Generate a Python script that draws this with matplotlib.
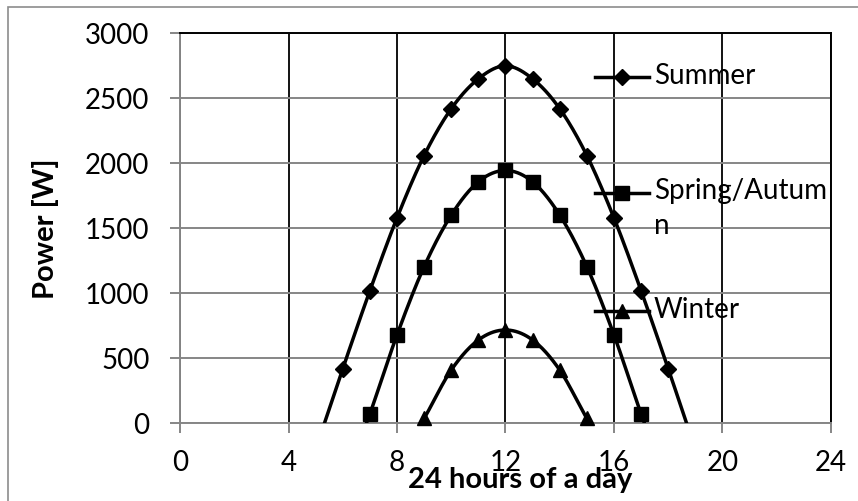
import numpy as np
import matplotlib.pyplot as plt
from matplotlib.patches import Rectangle

plt.rcParams['font.family'] = ['Lato', 'DejaVu Sans']

# hourly solar power, W (the outer points fall below zero and are cut by the axis)
hours_summer = [5, 6, 7, 8, 9, 10, 11, 12, 13, 14, 15, 16, 17, 18, 19]
summer = [-200, 420, 1020, 1580, 2060, 2420, 2650, 2750, 2650, 2420, 2060, 1580, 1020, 420, -200]

hours_spring = [6, 7, 8, 9, 10, 11, 12, 13, 14, 15, 16, 17, 18]
spring = [-500, 72, 680, 1205, 1602, 1858, 1945, 1858, 1602, 1205, 680, 72, -500]

hours_winter = [8, 9, 10, 11, 12, 13, 14, 15, 16]
winter = [-300, 38, 410, 641, 718, 641, 410, 38, -300]

labels = ['Summer', 'Spring/Autum\nn', 'Winter']
markers = ['D', 's', '^']
msizes = [8, 10, 10]


def smooth(x, y, n=30):
    # cubic Hermite through the points, tangents from central differences
    x = np.asarray(x, float)
    y = np.asarray(y, float)
    m = np.gradient(y, x)
    xs, ys = [], []
    for i in range(len(x) - 1):
        t = np.linspace(0, 1, n)
        h = x[i + 1] - x[i]
        h00 = 2 * t**3 - 3 * t**2 + 1
        h10 = t**3 - 2 * t**2 + t
        h01 = -2 * t**3 + 3 * t**2
        h11 = t**3 - t**2
        xs.append(x[i] + t * h)
        ys.append(h00 * y[i] + h10 * h * m[i] + h01 * y[i + 1] + h11 * h * m[i + 1])
    return np.concatenate(xs), np.concatenate(ys)


fig = plt.figure(figsize=(8.58, 5.01), dpi=100)
ax = fig.add_axes([0.2098, 0.155, 0.7587, 0.7785])

gray = '#868686'
series = [(hours_summer, summer), (hours_spring, spring), (hours_winter, winter)]
for (hx, hy), mk, ms in zip(series, markers, msizes):
    sx, sy = smooth(hx, hy)
    ax.plot(sx, sy, color='black', lw=2.5, zorder=3)
    hx = np.array(hx)
    hy = np.array(hy)
    keep = hy >= 0
    ax.plot(hx[keep], hy[keep], ls='none', marker=mk, ms=ms, color='black',
            clip_on=False, zorder=4)

ax.set_xlim(0, 24)
ax.set_ylim(0, 3000)
ax.set_xticks(range(0, 25, 4))
ax.set_yticks(range(0, 3001, 500))

ax.xaxis.grid(True, color='black', lw=1.3)
ax.yaxis.grid(True, color=gray, lw=1.4)
ax.set_axisbelow(True)

for side in ['left', 'bottom']:
    ax.spines[side].set_color(gray)
    ax.spines[side].set_linewidth(1.4)
for side in ['top', 'right']:
    ax.spines[side].set_color('black')
    ax.spines[side].set_linewidth(1.4)

ax.tick_params(axis='both', direction='out', length=7, width=1.4, color=gray,
               labelsize=20)
ax.tick_params(axis='y', pad=15)
ax.tick_params(axis='x', pad=12)

ax.set_ylabel('Power [W]', fontsize=21, fontweight='bold', va='center')
ax.yaxis.set_label_coords(-0.206, 0.5)
ax.set_xlabel('24 hours of a day', fontsize=21, fontweight='bold', va='center')
ax.xaxis.set_label_coords(0.522, -0.146)

# legend drawn by hand so the handle sits on the first line of each label
leg_y = [0.887, 0.590, 0.287]
for lab, mk, ms, ly in zip(labels, markers, msizes, leg_y):
    ax.plot([0.637, 0.720], [ly, ly], color='black', lw=2.5,
            transform=ax.transAxes, clip_on=False, zorder=5)
    ax.plot([0.6785], [ly], marker=mk, ms=ms, color='black',
            transform=ax.transAxes, clip_on=False, zorder=5)
    ax.text(0.728, ly + 0.038, lab, transform=ax.transAxes, fontsize=20,
            va='top', ha='left', linespacing=1.4, zorder=5)

fig.patches.append(Rectangle((8 / 858, -0.5), 2, 0.986 + 0.5, fill=False,
                             edgecolor='#8c8c8c', lw=1.2,
                             transform=fig.transFigure))

fig.savefig('out.png', dpi=100)
